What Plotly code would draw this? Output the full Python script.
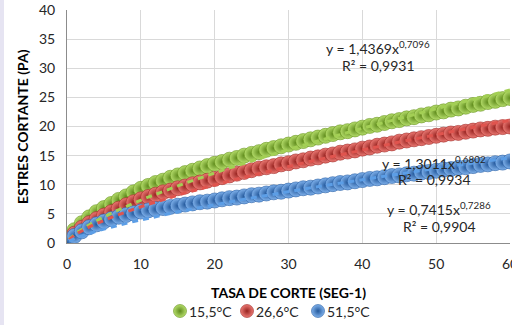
import numpy as np
import plotly.graph_objects as go

shear_rate = list(range(0, 61))

stress_15_5 = [0.5, 2.2, 3.4, 4.4, 5.3, 6.0, 6.7, 7.4, 8.0, 8.7,
               9.3, 9.8, 10.3, 10.7, 11.2, 11.6, 12.0, 12.4, 12.8, 13.2,
               13.6, 13.9, 14.3, 14.6, 15.0, 15.3, 15.6, 16.0, 16.3, 16.6,
               16.9, 17.2, 17.5, 17.8, 18.1, 18.4, 18.7, 19.0, 19.2, 19.5,
               19.8, 20.1, 20.3, 20.6, 20.9, 21.1, 21.4, 21.6, 21.9, 22.1,
               22.4, 22.6, 22.9, 23.1, 23.4, 23.7, 23.9, 24.2, 24.4, 24.7, 24.9]

stress_26_6 = [0.3, 1.6, 2.6, 3.4, 4.1, 4.7, 5.3, 5.9, 6.5, 7.0,
               7.5, 7.9, 8.3, 8.7, 9.0, 9.4, 9.7, 10.1, 10.4, 10.7,
               11.0, 11.3, 11.6, 11.9, 12.2, 12.5, 12.8, 13.0, 13.2, 13.5,
               13.7, 14.0, 14.2, 14.5, 14.7, 15.0, 15.2, 15.5, 15.7, 15.9,
               16.2, 16.4, 16.7, 16.9, 17.1, 17.4, 17.6, 17.8, 18.0, 18.2,
               18.4, 18.6, 18.8, 18.9, 19.1, 19.3, 19.5, 19.6, 19.8, 19.9, 20.0]

stress_51_5 = [0.0, 1.2, 2.0, 2.7, 3.2, 3.7, 4.1, 4.5, 4.8, 5.1,
               5.4, 5.6, 5.8, 6.0, 6.2, 6.4, 6.6, 6.8, 7.0, 7.1,
               7.3, 7.5, 7.7, 7.8, 8.0, 8.2, 8.3, 8.5, 8.7, 8.8,
               9.0, 9.2, 9.4, 9.5, 9.7, 9.9, 10.1, 10.3, 10.4, 10.6,
               10.8, 11.0, 11.1, 11.3, 11.5, 11.6, 11.8, 11.9, 12.1, 12.2,
               12.4, 12.6, 12.7, 12.9, 13.0, 13.2, 13.4, 13.5, 13.7, 13.8, 14.0]

series_names = ["15,5°C", "26,6°C", "51,5°C"]
fit_a = [1.4369, 1.3011, 0.7415]
fit_b = [0.7096, 0.6802, 0.7286]
fit_r2 = ["0,9931", "0,9934", "0,9904"]
fit_a_txt = ["1,4369", "1,3011", "0,7415"]
fit_b_txt = ["0,7096", "0,6802", "0,7286"]

x_ticks = [0, 10, 20, 30, 40, 50, 60]
y_ticks = [0, 5, 10, 15, 20, 25, 30, 35, 40]

marker_center = ["#b6de6c", "#ec7a74", "#80b2ec"]
marker_edge = ["#5e8a1c", "#972320", "#23589b"]
marker_line = ["#66921f", "#9e2925", "#285ea2"]
trend_col = ["#a3cf55", "#e0544e", "#5c9ee6"]

FONT = "Lato, 'Open Sans', sans-serif"
W, H = 512, 325
L, R, T, B = 67, 510, 10, 243

def PX(p):
    return p / W
def PY(p):
    return 1 - p / H

fig = go.Figure()

for name, ys, c0, c1, lc in zip(series_names, [stress_15_5, stress_26_6, stress_51_5],
                                marker_center, marker_edge, marker_line):
    fig.add_trace(go.Scatter(
        x=shear_rate, y=ys, mode="markers", name=name,
        marker=dict(size=15, color=c0, gradient=dict(type="radial", color=c1),
                    line=dict(color=lc, width=0.6)),
        showlegend=False))

xf = np.linspace(0.3, 60, 200)
for a, b, col in zip(fit_a, fit_b, trend_col):
    fig.add_trace(go.Scatter(
        x=xf, y=a * xf ** b, mode="lines", showlegend=False,
        line=dict(color=col, width=3, dash="6px,5px"), hoverinfo="skip"))

# custom legend (on an overlay axis measured in page pixels)
leg_sym_x = [180, 247, 318]
leg_txt_x = [187, 254, 325]
leg_y = 311
for name, sx, c0, c1, lc in zip(series_names, leg_sym_x, marker_center, marker_edge, marker_line):
    fig.add_trace(go.Scatter(
        x=[sx], y=[leg_y], xaxis="x2", yaxis="y2", mode="markers", showlegend=False,
        marker=dict(size=13, color=c0, gradient=dict(type="radial", color=c1),
                    line=dict(color=lc, width=0.6)), hoverinfo="skip"))

def text(x, y, s, size=14, color="#262626", xanchor="center", angle=0):
    fig.add_annotation(x=PX(x), y=PY(y), xref="paper", yref="paper",
                       xanchor=xanchor, yanchor="middle", text=s, showarrow=False,
                       textangle=angle, font=dict(family=FONT, size=size, color=color))

for name, tx in zip(series_names, leg_txt_x):
    text(tx, leg_y, name, xanchor="left")

ann_pos = [(378, 48, 66), (434, 162, 179), (439, 208, 226)]
for (cx, y1, y2), a, b, r2 in zip(ann_pos, fit_a_txt, fit_b_txt, fit_r2):
    text(cx, y1, f"y = {a}x<sup>{b}</sup>")
    text(cx, y2, f"R² = {r2}")

# axis titles
text(288, 292, "<b>TASA DE CORTE (SEG-1)</b>", color="#000000")
text(22, 127, "<b>ESTRES CORTANTE (PA)</b>", color="#000000", angle=-90)

fig.add_shape(type="rect", xref="paper", yref="paper",
              x0=0, x1=PX(4), y0=0, y1=1,
              fillcolor="#e6e4f2", line=dict(width=0), layer="below")

fig.update_layout(
    width=W, height=H,
    margin=dict(l=0, r=0, t=0, b=0),
    paper_bgcolor="white", plot_bgcolor="white",
    font=dict(family=FONT, size=14, color="#262626"),
    xaxis=dict(domain=[PX(L), PX(R)], range=[0, 60], tickvals=x_ticks,
               showgrid=True, gridcolor="#d9d9d9", gridwidth=1, zeroline=False,
               showline=True, linecolor="#8c8c8c", linewidth=1, ticks="",
               ticklabelstandoff=8, ticklabeloverflow="allow", automargin=False,
               tickfont=dict(family=FONT, size=14, color="#262626")),
    yaxis=dict(domain=[PY(B), PY(T)], range=[0, 40], tickvals=y_ticks,
               showgrid=True, gridcolor="#d9d9d9", gridwidth=1, zeroline=False,
               showline=True, linecolor="#8c8c8c", linewidth=1, ticks="",
               ticklabelstandoff=8, ticklabeloverflow="allow", automargin=False,
               tickfont=dict(family=FONT, size=14, color="#262626")),
    xaxis2=dict(domain=[0, 1], range=[0, W], visible=False, fixedrange=True),
    yaxis2=dict(domain=[0, PY(295)], range=[H, 295], visible=False, fixedrange=True),
    showlegend=False,
)

fig.write_html("out.html")
